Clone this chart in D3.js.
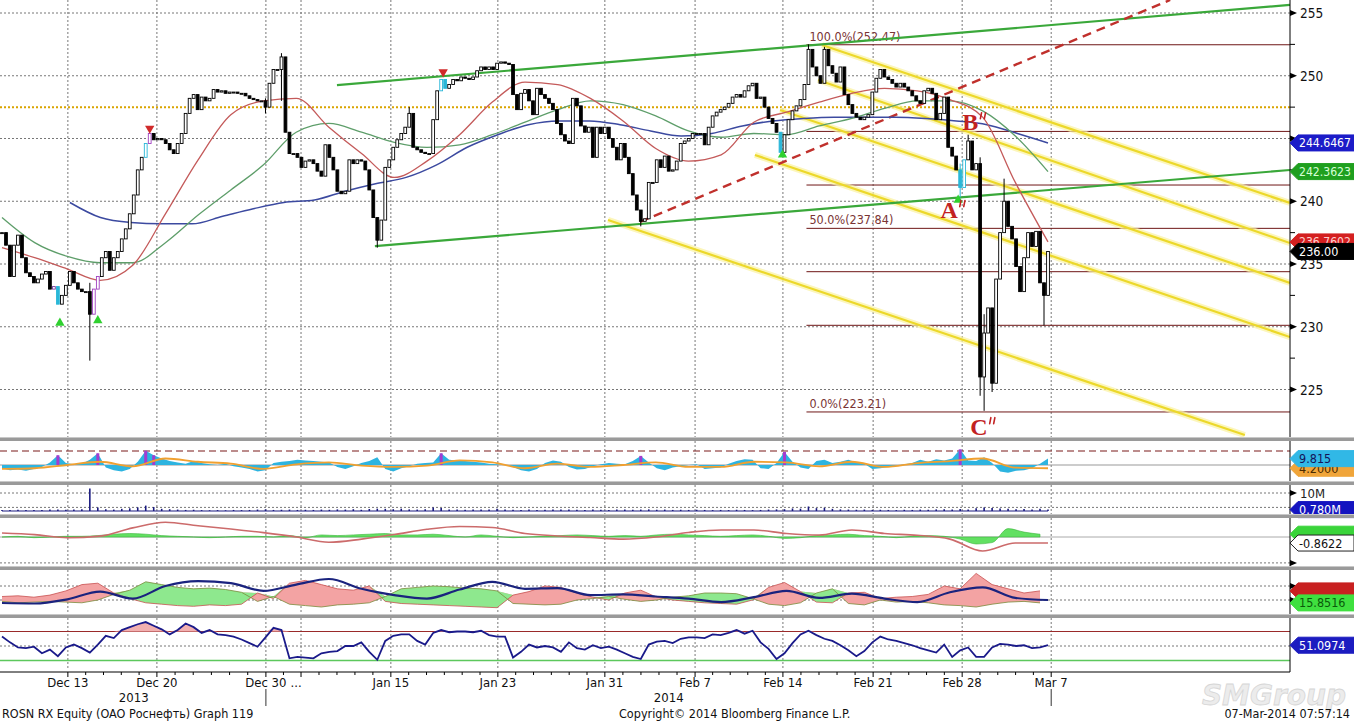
<!DOCTYPE html>
<html><head><meta charset="utf-8">
<script src="https://cdn.jsdelivr.net/npm/d3@7"></script>
<style>
body{margin:0;background:#fff;}
svg{display:block;font-family:"DejaVu Sans Condensed","Liberation Sans Narrow","Liberation Sans",sans-serif;}
</style></head><body>
<svg id="c" width="1354" height="723"></svg>
<script>
// ---------------- DATA ----------------
const closes = [237.5,236.5,234.0,236.5,237.3,235.5,234.3,234.0,233.5,233.8,
234.2,234.4,233.0,233.2,231.8,232.5,233.3,234.4,233.5,233.0,
232.8,232.8,231.0,233.0,234.0,235.5,236.0,234.5,235.5,236.0,
237.0,237.8,239.0,240.5,242.5,243.5,244.6,245.4,244.9,245.0,
244.9,244.6,244.1,243.8,244.6,245.4,247.0,248.2,248.5,247.3,
248.3,248.0,248.2,248.9,248.7,248.8,248.6,248.7,248.7,248.6,
248.6,248.4,248.2,248.1,248.0,248.0,247.5,249.4,250.5,250.5,
251.5,245.5,243.8,243.8,243.5,242.7,243.2,243.3,243.0,242.4,
242.0,244.5,243.5,242.5,240.8,240.6,240.8,243.3,243.0,243.3,
243.2,242.5,240.9,238.7,236.9,238.5,242.7,243.3,244.3,244.9,
245.4,245.9,247.0,244.3,244.1,243.9,243.8,243.8,246.5,248.8,
249.7,249.0,249.3,249.7,249.6,249.9,249.8,249.7,249.9,250.4,
250.7,250.5,250.7,250.5,251.0,251.1,251.0,250.9,248.5,247.3,
248.6,248.9,248.0,246.9,249.0,248.5,248.2,247.8,247.3,246.2,
245.3,244.8,244.6,248.2,247.6,246.0,245.5,245.9,243.5,245.9,
245.4,245.9,245.0,244.3,243.3,244.6,243.5,242.2,240.5,239.3,
238.4,238.6,241.5,241.5,243.3,242.7,243.6,242.4,242.5,243.2,
244.6,244.8,245.0,245.4,245.4,245.4,244.5,245.9,246.8,247.1,
247.3,247.5,247.8,248.3,248.5,248.3,248.8,249.2,249.4,248.2,
248.3,247.5,246.6,246.2,245.5,243.9,245.3,246.5,247.2,247.6,
248.1,249.3,252.1,250.7,250.0,249.4,252.1,250.8,250.2,249.5,
250.7,248.5,247.7,247.0,246.7,246.5,246.7,246.9,248.7,249.8,
250.5,249.9,249.7,249.4,249.1,249.4,249.1,248.8,248.4,248.0,
247.8,248.8,249.0,248.6,246.5,247.0,248.3,244.3,243.6,242.5,
241.1,243.3,244.8,242.5,243.0,226.0,229.5,231.5,225.5,233.8,
237.5,240.0,238.0,237.0,234.8,232.8,235.5,237.5,236.4,237.6,
233.5,232.5,236.0];
// [bar, high, low] wick extremes
const wickExtremes = [[22,233.5,227.3],[66,248.2,247.0],[70,251.8,248.0],[94,238.5,236.3],
[102,247.5,245.9],[160,239.3,238.0],[202,252.5,249.3],[206,252.3,249.4],[240,243.0,240.3],
[242,245.3,243.3],[245,243.5,224.5],[246,231.0,223.3],[248,231.5,224.8],[251,241.8,237.5],[261,233.5,230.1]];
const highlighted = [[13,"#7b3fa0"],[14,"#2ab7d8"],[23,"#a040c0"],[24,"#a040c0"],[36,"#2ab7d8"],[37,"#a040c0"],
[110,"#2ab7d8"],[111,"#2ab7d8"],[195,"#2ab7d8"],[240,"#2ab7d8"],[241,"#2ab7d8"]];
const signalsUp = [[14.5,230.3],[24,230.5],[195.5,243.7],[239.5,240.1]];
const signalsDown = [[37,245.8],[110.5,250.3]];

const redMA = [236.3,235.5,234.6,233.7,234.9,239.0,243.3,246.9,248.0,248.2,245.9,243.8,241.9,243.2,245.3,247.9,249.5,249.3,248.2,246.4,244.2,243.2,243.7,246.3,247.1,247.9,248.6,249.0,248.8,248.1,246.7,241.5,236.76];
const greenMA = [238.7,236.7,235.6,235.1,235.1,236.7,238.9,240.9,242.9,245.5,246.2,245.5,244.7,244.3,244.5,245.3,246.3,247.3,248.0,247.7,246.8,245.6,245.1,245.4,245.3,246.0,246.6,247.4,248.0,248.0,247.2,245.2,242.36];
const blueMA = [239.9,238.7,238.3,238.2,238.2,238.8,239.4,239.9,240.1,240.8,241.4,241.9,242.9,244.3,245.3,246.1,246.4,246.4,246.1,245.6,245.2,245.4,246.0,246.4,246.6,246.7,246.7,246.7,246.6,246.4,246.1,245.4,244.6467];
const blueMAStart = 17;

// trend lines [bar1, price1, bar2, price2]
const greenChannel = [[83.9,249.26,322.6,255.64],[93.4,236.43,322.6,242.49]];
const redDashed = [[159.8,238.35,292.6,256.04]];
const yellowFan = [[205.4,252.45,322.6,239.86],[204.4,249.66,322.6,236.67],[194.9,247.27,322.6,233.49],[188.6,243.69,322.6,229.18],[151.8,238.51,311.3,221.37]];
const refLevel = 247.5;
const fibLow = 223.21, fibHigh = 252.47, fibStartBar = 201.5;
const fibRatios = [0,0.236,0.382,0.5,0.618,0.764,1];
const fibLabelled = [0,0.5,1];
const annotations = [["A",237.3,238.7],["B",242.8,245.7],["C",244.8,221.4]];

const oscHist = [-5,-8,-7,-9,-6,-3,4,15,3,1,2,8,18,-4,-8,-10,-6,5,22,15,10,6,4,2,6,3,1,0,2,-2,-4,-6,-10,-8,3,5,6,8,7,6,5,4,-3,-6,-2,3,6,12,-6,-10,-5,-2,2,3,4,18,8,7,6,5,4,2,1,0,-3,-8,-10,-6,3,7,5,-3,-7,-6,-2,1,3,2,1,6,14,4,-5,-8,-4,-2,0,1,-6,-5,-4,2,6,9,8,-5,-6,3,20,5,-4,-6,6,8,3,5,8,4,2,-6,-5,-3,-1,1,3,8,5,9,7,10,24,7,6,12,3,-10,-12,-9,-8,-5,2,9.8];
const oscSignal = [-6,-5,0,5,-2,10,5,2,-6,1,4,-1,-3,-1,7,4,-5,2,-3,0,4,-3,-3,5,4,-2,5,-3,3,6,10,-4,-5];
const oscUpper = 21.5;
const volume = [0.6,0.5,0.7,0.5,0.6,0.5,0.8,0.9,0.7,0.9,1.0,12.5,2.0,1.0,0.8,1.2,1.5,2.0,3.0,2.2,1.2,1.0,0.8,0.6,0.7,0.5,0.4,0.5,0.4,0.6,0.5,0.6,0.8,0.9,0.6,0.7,0.8,0.6,0.7,0.6,0.8,0.7,0.9,0.8,1.0,0.7,1.1,1.3,1.2,1.0,1.3,0.9,0.8,1.0,2.0,1.6,0.9,0.8,0.7,0.9,0.8,0.9,1.2,0.8,0.7,0.6,0.8,0.6,0.7,0.9,0.8,0.9,0.7,0.6,0.8,0.7,0.6,0.8,0.9,0.7,0.8,0.9,0.7,0.8,0.6,0.7,0.6,0.7,0.6,0.5,0.6,0.5,0.7,0.6,0.5,0.6,0.8,0.9,1.0,1.4,1.3,2.5,1.6,1.8,1.2,0.9,0.8,0.7,0.8,0.6,0.7,0.6,0.5,0.7,0.6,0.8,0.7,0.9,1.0,0.9,1.1,0.9,1.5,2.0,1.6,1.4,1.2,1.0,1.1,0.9,1.3,0.78];
const macdLine = [0.57,0.34,-0.1,0.12,1.3,2.1,1.6,1.15,0.62,0.0,-0.75,-0.3,0.35,1.1,1.5,1.35,0.5,0.15,-0.07,-0.3,0.0,0.65,1.0,1.0,0.5,0.28,1.0,0.5,0.25,-0.3,-2.0,-0.85,-0.8622];
const macdHist = [0,0.1,-0.1,0,0.1,0.1,0.2,0.4,0.5,0.4,0.2,0.1,0,-0.1,0,0.1,0.1,0,0.2,-0.1,0.3,0.2,0.3,0.4,0.5,0.3,0.3,0.4,0.2,0,0.3,0.1,-0.1,0,0.1,0.2,0.3,0.2,0.1,0.2,0.1,0.3,0.4,0.3,0.2,0.1,0.2,0.3,0.1,-0.2,-0.1,0.2,0.3,0.4,0.2,0.1,-0.1,0.1,0.2,0.1,-0.3,-1.0,-0.8,1.2,0.7,0.4];
const macdLowLevel = -3.7;
const dmiMinus = [25,26,24,27,33,42,44,30,22,16,14,12,11,13,12,14,30,22,44,48,42,36,34,40,18,15,14,13,12,11,10,9,27,32,40,38,30,24,20,30,34,24,20,18,16,15,14,20,38,45,32,17,16,30,31,22,24,25,28,40,36,58,42,36,30,33];
const dmiPlus = [18,16,17,18,17,16,20,28,34,46,42,38,36,37,35,31,18,25,14,12,10,13,14,16,25,36,38,40,39,37,36,33,15,14,13,14,20,22,25,21,18,20,24,26,30,30,29,22,14,12,16,30,36,15,13,20,17,18,16,13,12,10,14,17,18,15.8516];
const adx = [15.7,15,21,32,22,40,47,44,33,42,50,36,27,22,35,46,36,37,27,28,25,22,17,24,33,23,29,22,17,31,38,23,20];
const rsi = [63,55,48,47,49,40,45,36,48,52,47,41,52,64,61,72,76,80,83,78,73,66,72,81,76,68,72,66,65,63,59,54,49,62,75,72,33,35,34,33,40,42,43,50,50,55,42,31,57,64,66,66,57,52,68,72,69,70,70,69,71,65,63,63,34,42,52,48,50,48,42,55,47,45,51,47,49,45,40,35,32,52,56,57,54,60,62,62,61,66,65,68,72,67,71,55,46,32,40,54,66,71,65,60,57,51,44,36,43,55,63,59,57,54,51,47,44,41,52,35,44,48,35,35,48,53,52,50,51,47,48,51.0974];

const priceTicks = [225,230,235,240,245,250,255];
const dateTickBars = [16.5,38.8,66.1,74.9,97.4,124.2,151,173.6,195.6,218.2,240.5,262.8];
const dateTickLabels = ["Dec 13","Dec 20","Dec 30 ...","","Jan 15","Jan 23","Jan 31","Feb 7","Feb 14","Feb 21","Feb 28","Mar 7"];
const yearBoundaryBars = [66.1,262.8];
const yearLabels = [["2013",33],["2014",167]];
const lastBar = 262;

// ---------------- LAYOUT ----------------
const W=1354, H=723, AX=1290;
const svg = d3.select("#c");
const x = d3.scaleLinear().domain([0,lastBar]).range([2,1048]);
const yMain = d3.scaleLinear().domain([225,255]).range([389.5,13]);
const yOsc = d3.scaleLinear().domain([0,oscUpper]).range([465,451]);
const yVol = d3.scaleLinear().domain([0,10]).range([511,493]);
const yMacd = d3.scaleLinear().domain([0,1]).range([537,530]);
const yDmi = d3.scaleLinear().domain([20,40]).range([600,586]);
const yRsi = d3.scaleLinear().domain([30,70]).range([660.5,631.5]);
const panels = {main:[0,437],osc:[441,481],vol:[485,514],macd:[518,566],dmi:[570,614],rsi:[618,670]};
const seps = [437,481,514,566,614];

const defs = svg.append("defs");
Object.entries(panels).forEach(([k,[t,b]])=>{
  defs.append("clipPath").attr("id","clip-"+k).append("rect").attr("x",0).attr("y",t).attr("width",AX).attr("height",b-t);
});
function ser(vals,t0,t1){const n=vals.length;return vals.map((v,i)=>({t:t0+(t1-t0)*i/(n-1),v}));}
function pg(k){return svg.append("g").attr("clip-path","url(#clip-"+k+")");}

const mainTags = [[244.6467,"244.6467","#1c1cc8","#fff"],[242.3623,"242.3623","#1f9f1f","#d6ffd6"],[236.7602,"236.7602","#d42020","#ffd0d0"],[236.00,"236.00","#000","#fff"]];

// grid verticals
const gridG = svg.append("g");
Object.entries(panels).forEach(([k,[t,b]])=>{
  gridG.selectAll(null).data(dateTickBars).enter().append("line")
    .attr("x1",d=>x(d)).attr("x2",d=>x(d)).attr("y1",t).attr("y2",b)
    .attr("stroke","#777").attr("stroke-width",1).attr("stroke-dasharray","2,2");
});
gridG.selectAll(null).data(priceTicks).enter().append("line")
  .attr("x1",0).attr("x2",AX).attr("y1",d=>yMain(d)).attr("y2",d=>yMain(d))
  .attr("stroke","#777").attr("stroke-dasharray","2,2");
function hline(y,color,dash,w){gridG.append("line").attr("x1",0).attr("x2",AX).attr("y1",y).attr("y2",y)
  .attr("stroke",color).attr("stroke-width",w||1).attr("stroke-dasharray",dash||null);}
hline(yOsc(oscUpper),"#7a1a1a","7,4",1.2);
hline(yOsc(0),"#999",null,1);
hline(yVol(10),"#777","2,2");
hline(yVol(2),"#777","2,2");
hline(yMacd(0),"#aaa",null,1);
hline(yMacd(macdLowLevel),"#777","2,2");
hline(yDmi(40),"#777","2,2");
hline(yDmi(20),"#777","2,2");
hline(yRsi(70),"#9a2a2a",null,1);
hline(yRsi(50),"#777","2,2");
hline(yRsi(30),"#5cc85c",null,1.6);

// ---------------- MAIN PANEL ----------------
const gm = pg("main");
gm.append("line").attr("x1",0).attr("x2",AX).attr("y1",yMain(refLevel)).attr("y2",yMain(refLevel))
  .attr("stroke","#d9a400").attr("stroke-width",2).attr("stroke-dasharray","2,2");
fibRatios.forEach(r=>{
  const lv = fibLow + (fibHigh-fibLow)*r;
  gm.append("line").attr("x1",x(fibStartBar)).attr("x2",AX).attr("y1",yMain(lv)).attr("y2",yMain(lv))
    .attr("stroke","#6e1616").attr("stroke-width",1);
  if(fibLabelled.includes(r)){
    gm.append("text").attr("x",x(fibStartBar)+3).attr("y",yMain(lv)-4).attr("font-size",12.5)
      .attr("fill","#7a3434").text((r*100).toFixed(1)+"%("+lv.toFixed(2)+")");
  }
});
yellowFan.forEach(([t1,p1,t2,p2])=>{
  gm.append("line").attr("x1",x(t1)).attr("y1",yMain(p1)).attr("x2",x(t2)).attr("y2",yMain(p2))
    .attr("stroke","#fbf3a0").attr("stroke-width",6).attr("opacity",0.7);
  gm.append("line").attr("x1",x(t1)).attr("y1",yMain(p1)).attr("x2",x(t2)).attr("y2",yMain(p2))
    .attr("stroke","#ecd82a").attr("stroke-width",2.2);
});
greenChannel.forEach(([t1,p1,t2,p2])=>{
  gm.append("line").attr("x1",x(t1)).attr("y1",yMain(p1)).attr("x2",x(t2)).attr("y2",yMain(p2))
    .attr("stroke","#3aa83a").attr("stroke-width",2.2);
});
redDashed.forEach(([t1,p1,t2,p2])=>{
  gm.append("line").attr("x1",x(t1)).attr("y1",yMain(p1)).attr("x2",x(t2)).attr("y2",yMain(p2))
    .attr("stroke","#c0302c").attr("stroke-width",2.4).attr("stroke-dasharray","9,6");
});
const maLine = d3.line().x(d=>x(d.t)).y(d=>yMain(d.v)).curve(d3.curveMonotoneX);
gm.append("path").attr("d",maLine(ser(blueMA,blueMAStart,lastBar))).attr("fill","none").attr("stroke","#3c4aa0").attr("stroke-width",1.5);
gm.append("path").attr("d",maLine(ser(greenMA,0,lastBar))).attr("fill","none").attr("stroke","#5e9e6a").attr("stroke-width",1.3);
gm.append("path").attr("d",maLine(ser(redMA,0,lastBar))).attr("fill","none").attr("stroke","#c45a5a").attr("stroke-width",1.3);
const bars = closes.map((c,i)=>{const o=i?closes[i-1]:c;return {i,o,c,h:Math.max(o,c),l:Math.min(o,c),col:"#000"};});
wickExtremes.forEach(([i,h,l])=>{bars[i].h=Math.max(bars[i].h,h);bars[i].l=Math.min(bars[i].l,l);});
highlighted.forEach(([i,col])=>{bars[i].col=col;});
const cg = gm.append("g");
cg.selectAll(".wk").data(bars).enter().append("line")
  .attr("x1",d=>x(d.i)).attr("x2",d=>x(d.i)).attr("y1",d=>yMain(d.h)).attr("y2",d=>yMain(d.l))
  .attr("stroke",d=>d.col).attr("stroke-width",1);
cg.selectAll(".bd").data(bars).enter().append("rect")
  .attr("x",d=>x(d.i)-1.4).attr("width",2.8)
  .attr("y",d=>yMain(Math.max(d.o,d.c))).attr("height",d=>Math.max(1,yMain(Math.min(d.o,d.c))-yMain(Math.max(d.o,d.c))))
  .attr("fill",d=>d.c>=d.o?"#fff":d.col).attr("stroke",d=>d.col).attr("stroke-width",0.9);
gm.selectAll(".su").data(signalsUp).enter().append("path")
  .attr("d",d3.symbol(d3.symbolTriangle,38)).attr("transform",d=>`translate(${x(d[0])},${yMain(d[1])})`)
  .attr("fill","#2fd02f");
gm.selectAll(".sd").data(signalsDown).enter().append("path")
  .attr("d",d3.symbol(d3.symbolTriangle,38)).attr("transform",d=>`translate(${x(d[0])},${yMain(d[1])}) rotate(180)`)
  .attr("fill","#d02a2a");
const annG = svg.append("g");
annotations.forEach(([lab,t,p])=>{
  const tx = annG.append("text").attr("x",x(t)-9).attr("y",yMain(p)).attr("font-family","Liberation Serif, serif")
    .attr("font-weight","bold").attr("font-size",24).attr("fill","#c22222").text(lab);
  const w = tx.node().getComputedTextLength();
  const qx = x(t)-9+w+2, qy = yMain(p)-17;
  // double-prime mark drawn as two short strokes
  [0,4].forEach(dx=>{
    annG.append("line").attr("x1",qx+dx+1.2).attr("y1",qy).attr("x2",qx+dx).attr("y2",qy+6)
      .attr("stroke","#c22222").attr("stroke-width",1.6).attr("stroke-linecap","round");
  });
});

// ---------------- OSC PANEL ----------------
const go = pg("osc");
const oscS = ser(oscHist,0,lastBar);
go.append("path").attr("d",d3.area().x(d=>x(d.t)).y0(yOsc(0)).y1(d=>yOsc(d.v))(oscS)).attr("fill","#2db4e0");
go.selectAll(".mg").data(oscS.filter(d=>d.v>=14)).enter().append("rect")
  .attr("x",d=>x(d.t)-1.5).attr("width",3).attr("y",d=>yOsc(d.v)).attr("height",d=>yOsc(0)-yOsc(d.v)).attr("fill","#a43cd0");
go.append("path").attr("d",d3.line().x(d=>x(d.t)).y(d=>yOsc(d.v)).curve(d3.curveMonotoneX)(ser(oscSignal,0,lastBar)))
  .attr("fill","none").attr("stroke","#f0a030").attr("stroke-width",1.8);

// ---------------- VOLUME ----------------
const gv = pg("vol");
gv.selectAll(".vb").data(ser(volume,0,lastBar)).enter().append("line")
  .attr("x1",d=>x(d.t)).attr("x2",d=>x(d.t)).attr("y1",yVol(0)).attr("y2",d=>yVol(d.v))
  .attr("stroke","#1a1a80").attr("stroke-width",1.6);
gv.append("line").attr("x1",x(0)).attr("x2",x(lastBar)).attr("y1",yVol(0)).attr("y2",yVol(0)).attr("stroke","#1a1a80").attr("stroke-width",1);

// ---------------- MACD ----------------
const gc = pg("macd");
gc.append("path").attr("d",d3.area().x(d=>x(d.t)).y0(yMacd(0)).y1(d=>yMacd(d.v)).curve(d3.curveMonotoneX)(ser(macdHist,0,260)))
  .attr("fill","#62e062").attr("stroke","#3cb43c").attr("stroke-width",0.6);
gc.append("path").attr("d",d3.line().x(d=>x(d.t)).y(d=>yMacd(d.v)).curve(d3.curveMonotoneX)(ser(macdLine,0,lastBar)))
  .attr("fill","none").attr("stroke","#cc6b6b").attr("stroke-width",1.6);

// ---------------- DMI ----------------
const gd = pg("dmi");
const dmi = dmiMinus.map((r,i)=>({t:260*i/(dmiMinus.length-1),r,g:dmiPlus[i]}));
gd.append("path").attr("d",d3.area().x(d=>x(d.t)).y0(d=>yDmi(d.g)).y1(d=>yDmi(Math.max(d.r,d.g)))(dmi)).attr("fill","#f3a3a3");
gd.append("path").attr("d",d3.area().x(d=>x(d.t)).y0(d=>yDmi(d.r)).y1(d=>yDmi(Math.max(d.r,d.g)))(dmi)).attr("fill","#8ee88e");
gd.append("path").attr("d",d3.line().x(d=>x(d.t)).y(d=>yDmi(d.r))(dmi)).attr("fill","none").attr("stroke","#c85050").attr("stroke-width",0.8);
gd.append("path").attr("d",d3.line().x(d=>x(d.t)).y(d=>yDmi(d.g))(dmi)).attr("fill","none").attr("stroke","#7a8a3a").attr("stroke-width",0.8);
gd.append("path").attr("d",d3.line().x(d=>x(d.t)).y(d=>yDmi(d.v)).curve(d3.curveMonotoneX)(ser(adx,0,lastBar)))
  .attr("fill","none").attr("stroke","#1a237e").attr("stroke-width",2.2);

// ---------------- RSI ----------------
const gr = pg("rsi");
const rsiS = ser(rsi,0,lastBar);
gr.append("path").attr("d",d3.area().x(d=>x(d.t)).y0(yRsi(70)).y1(d=>yRsi(Math.max(70,d.v)))(rsiS)).attr("fill","#f2b0b0");
gr.append("path").attr("d",d3.area().x(d=>x(d.t)).y0(yRsi(30)).y1(d=>yRsi(Math.min(30,d.v)))(rsiS)).attr("fill","#b8f0b8");
gr.append("path").attr("d",d3.line().x(d=>x(d.t)).y(d=>yRsi(d.v))(rsiS)).attr("fill","none").attr("stroke","#1a1a8a").attr("stroke-width",1.8);

// ---------------- RIGHT AXIS ----------------
const ra = svg.append("g");
ra.append("line").attr("x1",AX).attr("x2",AX).attr("y1",0).attr("y2",672).attr("stroke","#000");
priceTicks.forEach(v=>{
  ra.append("path").attr("d",`M${AX},${yMain(v)-3}L${AX+7},${yMain(v)}L${AX},${yMain(v)+3}Z`).attr("fill","#000");
  const hidden = mainTags.some(([tv])=>Math.abs(yMain(tv)-yMain(v))<6);
  if(!hidden) ra.append("text").attr("x",AX+10).attr("y",yMain(v)+5).attr("font-size",13.5).attr("fill","#111").text(v);
});
d3.range(227.5,255,5).forEach(v=>{
  ra.append("line").attr("x1",AX).attr("x2",AX+5).attr("y1",yMain(v)).attr("y2",yMain(v)).attr("stroke","#000");
});
[yVol(10),yMacd(macdLowLevel),yDmi(40),yDmi(20)].forEach(y=>{
  ra.append("path").attr("d",`M${AX},${y-3}L${AX+7},${y}L${AX},${y+3}Z`).attr("fill","#000");
});
ra.append("text").attr("x",AX+10).attr("y",yVol(10)+4.5).attr("font-size",13).attr("fill","#222").text("10M");

function tag(y,text,bg,fg,stroke){
  const h=8;
  const g=svg.append("g");
  g.append("path").attr("d",`M${AX},${y}L${AX+8},${y-h}L${W},${y-h}L${W},${y+h}L${AX+8},${y+h}Z`)
    .attr("fill",bg).attr("stroke",stroke||bg).attr("stroke-width",1);
  if(text){
    const t=g.append("text").attr("x",AX+9).attr("y",y+4.5).attr("font-size",12.5).attr("fill",fg).text(text);
    const maxW = W-AX-12;
    if(t.node().getComputedTextLength()>maxW) t.attr("textLength",maxW).attr("lengthAdjust","spacingAndGlyphs");
  }
}
mainTags.forEach(([v,t,bg,fg])=>tag(yMain(v),t,bg,fg));
tag(yOsc(oscSignal[oscSignal.length-1]),"4.2000","#f0a53a","#4a2a00");
tag(yOsc(oscHist[oscHist.length-1]),"9.815","#31b8e6","#14145a");
tag(yVol(volume[volume.length-1]),"0.780M","#1414c0","#fff");
tag(yMacd(macdHist[macdHist.length-1]),"","#3ad43a","#000");
tag(yMacd(macdLine[macdLine.length-1]),"-0.8622","#fff","#111","#222");
tag(yDmi(dmiMinus[dmiMinus.length-1]),"","#c82020","#000");
tag(yDmi(dmiPlus[dmiPlus.length-1]),"15.8516","#3fe03f","#0a5a0a");
tag(yRsi(rsi[rsi.length-1]),"51.0974","#1c1cc0","#fff");

seps.forEach(y=>{
  svg.append("rect").attr("x",0).attr("y",y).attr("width",W).attr("height",4).attr("fill","#9a9a9a");
  svg.append("line").attr("x1",0).attr("x2",W).attr("y1",y+0.5).attr("y2",y+0.5).attr("stroke","#c8c8c8");
});

// ---------------- BOTTOM AXIS ----------------
const ba = svg.append("g");
const axY = 672;
ba.append("line").attr("x1",0).attr("x2",AX).attr("y1",axY).attr("y2",axY).attr("stroke","#000");
dateTickBars.forEach((b,k)=>{
  ba.append("line").attr("x1",x(b)).attr("x2",x(b)).attr("y1",axY).attr("y2",axY+5).attr("stroke","#000");
  if(k<dateTickBars.length-1){
    const b2=dateTickBars[k+1];const n=Math.max(1,Math.round((x(b2)-x(b))/18));
    for(let j=1;j<n;j++){const xx=x(b)+(x(b2)-x(b))*j/n;
      ba.append("line").attr("x1",xx).attr("x2",xx).attr("y1",axY).attr("y2",axY+3).attr("stroke","#000");}
  }
  const lab=dateTickLabels[k]; if(!lab) return;
  const parts=lab.split(" ...");
  const t=ba.append("text").attr("x",x(b)).attr("y",axY+15).attr("text-anchor","middle").attr("font-size",13).attr("fill","#111").text(parts[0]);
  if(parts.length>1){const w=t.node().getComputedTextLength();
    ba.append("text").attr("x",x(b)+w/2+4).attr("y",axY+15).attr("font-size",13).attr("fill","#111").text("...");}
});
yearBoundaryBars.forEach(b=>{
  ba.append("line").attr("x1",x(b)).attr("x2",x(b)).attr("y1",axY+17).attr("y2",axY+34).attr("stroke","#333");
});
yearLabels.forEach(([t,b])=>{
  ba.append("text").attr("x",x(b)).attr("y",axY+30).attr("text-anchor","middle").attr("font-size",13).attr("fill","#111").text(t);
});
svg.append("text").attr("x",1346).attr("y",705).attr("text-anchor","end").attr("font-family","DejaVu Sans, sans-serif")
  .attr("font-style","italic").attr("font-weight","bold").attr("font-size",28).attr("fill","#ececec").attr("stroke","#d6d6d6").attr("stroke-width",0.8).text("SMGroup");
svg.append("text").attr("x",2).attr("y",718).attr("font-size",12.5).attr("fill","#111").text("ROSN RX Equity (OAO Роснефть) Graph 119");
svg.append("text").attr("x",619).attr("y",718).attr("font-size",12.5).attr("fill","#111").text("Copyright\u00a9 2014 Bloomberg Finance L.P.");
svg.append("text").attr("x",1350).attr("y",718).attr("text-anchor","end").attr("font-size",12.5).attr("fill","#111").text("07-Mar-2014 07:57:14");
</script>
</body></html>
